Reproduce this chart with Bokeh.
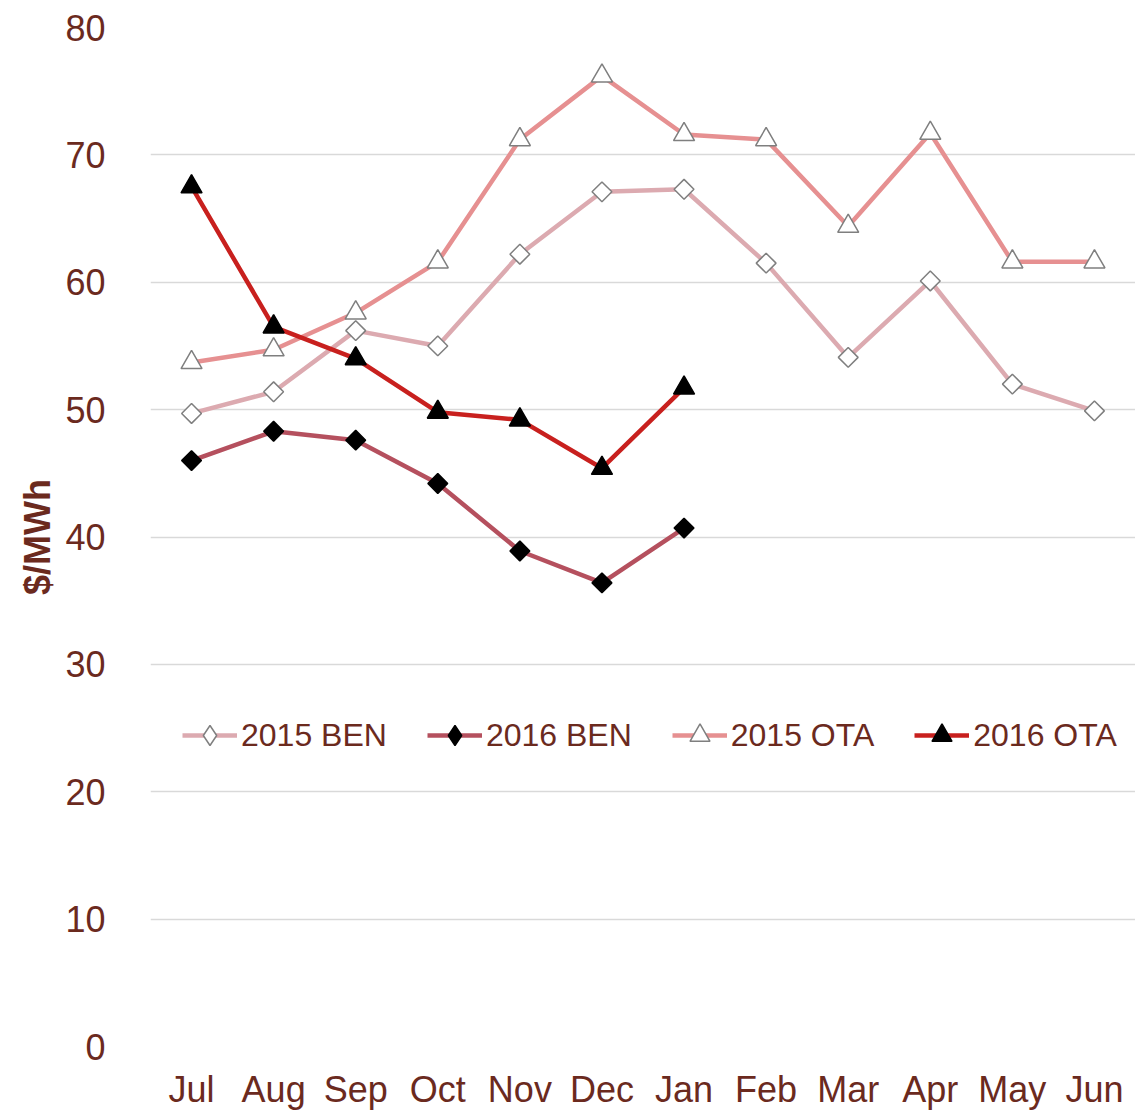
import math
from bokeh.plotting import figure
from bokeh.models import Legend, LegendItem, ColumnDataSource
from bokeh.embed import file_html
from bokeh.resources import INLINE

months = ["Jul", "Aug", "Sep", "Oct", "Nov", "Dec", "Jan", "Feb", "Mar", "Apr", "May", "Jun"]
ben_2015 = [49.7, 51.4, 56.2, 55.0, 62.2, 67.1, 67.3, 61.5, 54.1, 60.1, 52.0, 49.9]
ben_2016 = [46.0, 48.3, 47.6, 44.2, 38.9, 36.4, 40.7]
ota_2015 = [53.7, 54.7, 57.6, 61.6, 71.2, 76.2, 71.6, 71.2, 64.4, 71.7, 61.6, 61.6]
ota_2016 = [67.5, 56.5, 54.0, 49.8, 49.2, 45.4, 51.7]
y_ticks = [0, 10, 20, 30, 40, 50, 60, 70, 80]

TXT = "#6b2a1e"
FONT = "Liberation Sans"

p = figure(x_range=months, y_range=(0, 80), width=1135, height=1113,
           output_backend="svg", toolbar_location=None,
           min_border_left=150, min_border_right=0, min_border_top=27, min_border_bottom=67)
p.outline_line_color = None
p.xgrid.grid_line_color = None
p.ygrid.grid_line_color = "#d9d9d9"
p.ygrid.grid_line_width = 1.5
p.yaxis.ticker = y_ticks

for ax in (p.xaxis[0], p.yaxis[0]):
    ax.axis_line_color = None
    ax.major_tick_line_color = None
    ax.minor_tick_line_color = None
    ax.major_tick_out = 0
    ax.minor_tick_out = 0
    ax.major_label_text_font = FONT
    ax.major_label_text_font_size = "36px"
    ax.major_label_text_color = TXT

p.xaxis.major_label_standoff = 22
p.yaxis.major_label_standoff = 45
p.yaxis.axis_label = "$/MWh"
p.yaxis.axis_label_text_font = FONT
p.yaxis.axis_label_text_font_style = "bold"
p.yaxis.axis_label_text_font_size = "36px"
p.yaxis.axis_label_text_color = TXT
p.yaxis.axis_label_standoff = 4

series = [
    ("2015 BEN", ben_2015, "#dcaab0", "square", "diamond", math.pi / 4, "white", "#7f7f7f", 14),
    ("2016 BEN", ben_2016, "#b5505e", "square", "diamond", math.pi / 4, "black", "black", 14),
    ("2015 OTA", ota_2015, "#e69091", "triangle", "triangle", 0, "white", "#7f7f7f", 21),
    ("2016 OTA", ota_2016, "#c8201e", "triangle", "triangle", 0, "black", "black", 21),
]

items = []
for name, vals, col, mk, legmk, ang, fill, outline, sz in series:
    src = ColumnDataSource(dict(x=months[:len(vals)], y=vals))
    l = p.line("x", "y", source=src, line_color=col, line_width=4.5)
    s = p.scatter("x", "y", source=src, marker=mk, angle=ang, size=sz, fill_color=fill,
                  line_color=outline, line_width=1.5)
    if legmk != mk:
        # legend-only proxy (NaN value, not drawn in the plot)
        proxy = ColumnDataSource(dict(x=[months[0]], y=[float("nan")]))
        s = p.scatter("x", "y", source=proxy, marker=legmk, size=sz, fill_color=fill,
                      line_color=outline, line_width=1.5)
    items.append(LegendItem(label=name, renderers=[l, s]))

legend = Legend(items=items, orientation="horizontal", location=(32, 286),
                label_text_font=FONT, label_text_font_size="32px", label_text_color=TXT,
                glyph_width=55, glyph_height=50, label_standoff=4, spacing=40,
                background_fill_alpha=0, border_line_color=None, padding=4, margin=0)
p.add_layout(legend, "center")

open("out.html", "w").write(file_html(p, INLINE))
